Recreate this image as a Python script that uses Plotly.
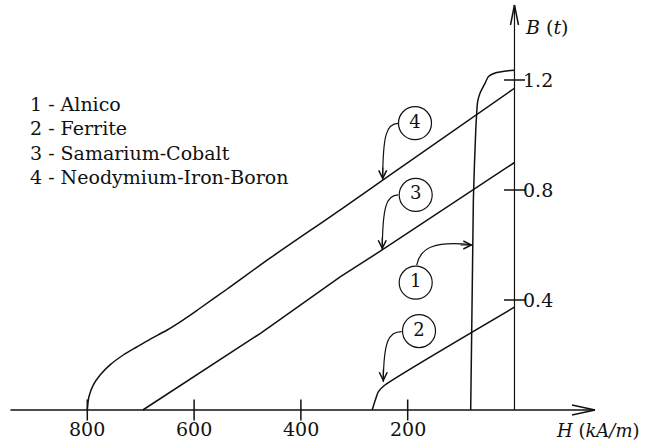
import plotly.graph_objects as go

# ---------------- data (H in kA/m, demagnetising side shown as positive, B in T) -------------
material_names = ["Alnico", "Ferrite", "Samarium-Cobalt", "Neodymium-Iron-Boron"]

alnico_H = [82, 77, 72.5, 69, 64.6, 55.2, 49, 33.3, 11.6, 0]
alnico_B = [0, 0.764, 1.018, 1.121, 1.152, 1.188, 1.212, 1.227, 1.234, 1.235]

ferrite_H = [266.5, 260.6, 254.8, 242.5, 0]
ferrite_B = [0, 0.036, 0.067, 0.091, 0.374]

smco_H = [696, 475.7, 325.8, 247.8, 0]
smco_B = [0, 0.279, 0.485, 0.582, 0.90]

ndfeb_H = [800, 797, 788.7, 776, 757.5, 732.6, 707.5, 682.6, 651.3, 620.2, 589, 538, 457.9, 326.8, 246.8, 0]
ndfeb_B = [0, 0.048, 0.091, 0.127, 0.164, 0.200, 0.229, 0.257, 0.290, 0.328, 0.370, 0.44, 0.552, 0.727, 0.836, 1.17]

H_ticks = [800, 600, 400, 200]
B_ticks = [0.4, 0.8, 1.2]

# callout circles (numbers) and where their curved arrows point
callout_num = ["1", "2", "3", "4"]
callout_H = [185, 178.8, 185, 186.3]
callout_B = [0.463, 0.287, 0.782, 1.043]

# ---------------- layout constants ----------------
X_RANGE = [963.5, -246.3]   # reversed: H grows to the left
Y_RANGE = [-0.1091, 1.4909]
X_AXIS_LEFT = 944
X_AXIS_TIP = -150.8
Y_AXIS_TIP = 1.4727
SERIF = "DejaVu Serif, Liberation Serif, serif"
BLACK = "#111111"

fig = go.Figure()

curve_style = dict(color=BLACK, width=1.5)
fig.add_trace(go.Scatter(x=alnico_H, y=alnico_B, mode="lines",
                         line=dict(shape="spline", smoothing=0.6, **curve_style), name=material_names[0]))
fig.add_trace(go.Scatter(x=ferrite_H, y=ferrite_B, mode="lines",
                         line=dict(shape="spline", smoothing=0.6, **curve_style), name=material_names[1]))
fig.add_trace(go.Scatter(x=smco_H, y=smco_B, mode="lines",
                         line=dict(shape="linear", **curve_style), name=material_names[2]))
fig.add_trace(go.Scatter(x=ndfeb_H, y=ndfeb_B, mode="lines",
                         line=dict(shape="spline", smoothing=0.8, **curve_style), name=material_names[3]))

# axes lines
fig.add_shape(type="line", xref="x", yref="y", x0=X_AXIS_LEFT, x1=X_AXIS_TIP, y0=0, y1=0,
              line=dict(color=BLACK, width=1.5))
fig.add_shape(type="line", xref="x", yref="y", x0=0, x1=0, y0=0, y1=Y_AXIS_TIP,
              line=dict(color=BLACK, width=1.2))
# arrowheads on axes
for s in (5, -5):
    fig.add_shape(type="line", xref="x", yref="y", xsizemode="pixel", ysizemode="pixel",
                  xanchor=X_AXIS_TIP, yanchor=0, x0=0, x1=-23, y0=0, y1=s,
                  line=dict(color=BLACK, width=1.5))
for s in (4, -4):
    fig.add_shape(type="line", xref="x", yref="y", xsizemode="pixel", ysizemode="pixel",
                  xanchor=0, yanchor=Y_AXIS_TIP, x0=0, x1=s, y0=0, y1=-20,
                  line=dict(color=BLACK, width=1.5))

# tick marks (crossing the axes)
fig.add_trace(go.Scatter(x=H_ticks, y=[0] * len(H_ticks), mode="markers",
                         marker=dict(symbol="line-ns", size=15, line=dict(color=BLACK, width=1.5)),
                         showlegend=False))
fig.add_trace(go.Scatter(x=[0] * len(B_ticks), y=B_ticks, mode="markers",
                         marker=dict(symbol="line-ew", size=15, line=dict(color=BLACK, width=1.5)),
                         showlegend=False))

# tick labels
for h in H_ticks:
    fig.add_annotation(x=h, y=0, xref="x", yref="y", text=str(h), showarrow=False,
                       yshift=-19, font=dict(family=SERIF, size=19, color=BLACK))
for b in B_ticks:
    fig.add_annotation(x=0, y=b, xref="x", yref="y", text=f"{b:.1f}", showarrow=False,
                       xanchor="left", xshift=7, font=dict(family=SERIF, size=19, color=BLACK))

# axis titles
fig.add_annotation(x=0, y=1.3927, xref="x", yref="y", text="<i>B</i> (<i>t</i>)", showarrow=False,
                   xanchor="left", xshift=9, font=dict(family=SERIF, size=19, color=BLACK))
fig.add_annotation(x=-74, y=0, xref="x", yref="y", text="<i>H</i> (<i>kA/m</i>)", showarrow=False,
                   xanchor="left", yshift=-20, font=dict(family=SERIF, size=18, color=BLACK))

# material list
list_y = [0.7636, 0.7091, 0.6534, 0.5966]
for i, name in enumerate(material_names):
    fig.add_annotation(x=0.043, y=list_y[i], xref="paper", yref="paper", text=f"{i + 1} - {name}",
                       showarrow=False, xanchor="left", yanchor="middle",
                       font=dict(family=SERIF, size=19, color=BLACK))

# numbered circles
fig.add_trace(go.Scatter(x=callout_H, y=callout_B, mode="markers+text", text=callout_num,
                         textposition="middle center",
                         textfont=dict(family=SERIF, size=18, color=BLACK),
                         marker=dict(symbol="circle-open", size=33, color=BLACK, line=dict(width=1.2)),
                         showlegend=False))

# curved leader arrows: (start, ctrl1, ctrl2, end) in data coords, arrowhead direction (ax, ay px)
leaders = [
    ((183.1, 0.527), (177.0, 0.589), (148.9, 0.618), (77.7, 0.600), (-14, 0)),
    ((211.2, 0.2847), (236.0, 0.2847), (245.0, 0.25), (245.7, 0.102), (0, -14)),
    ((217.6, 0.782), (240.0, 0.782), (247.0, 0.74), (247.6, 0.582), (0, -14)),
    ((217.6, 1.0425), (240.0, 1.0425), (246.5, 1.00), (246.8, 0.836), (0, -14)),
]
for p0, c1, c2, p1, (ax, ay) in leaders:
    path = f"M {p0[0]},{p0[1]} C {c1[0]},{c1[1]} {c2[0]},{c2[1]} {p1[0]},{p1[1]}"
    fig.add_shape(type="path", xref="x", yref="y", path=path, line=dict(color=BLACK, width=1.2))
    fig.add_annotation(x=p1[0], y=p1[1], xref="x", yref="y", text="", showarrow=True,
                       ax=ax, ay=ay, arrowhead=5, arrowsize=1.3, arrowwidth=1.2,
                       arrowcolor=BLACK, standoff=0)

fig.update_layout(
    width=646, height=440,
    margin=dict(l=0, r=0, t=0, b=0),
    paper_bgcolor="white", plot_bgcolor="white",
    showlegend=False,
    xaxis=dict(range=X_RANGE, visible=False, fixedrange=True),
    yaxis=dict(range=Y_RANGE, visible=False, fixedrange=True),
)

fig.write_html("out.html", config={"displayModeBar": False},
               post_script="document.body.style.margin='0';")
